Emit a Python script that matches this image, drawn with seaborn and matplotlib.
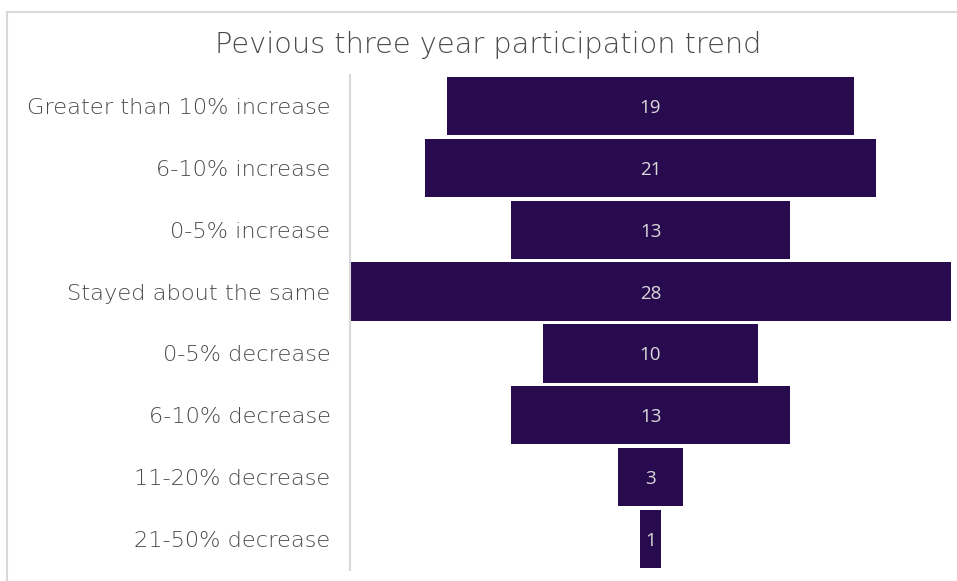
import matplotlib
matplotlib.use("Agg")
import matplotlib.pyplot as plt
import seaborn as sns
import numpy as np
import pandas as pd
from matplotlib.patches import Rectangle

categories = ["Greater than 10% increase", "6-10% increase", "0-5% increase",
              "Stayed about the same", "0-5% decrease", "6-10% decrease",
              "11-20% decrease", "21-50% decrease"]
values = [19, 21, 13, 28, 10, 13, 3, 1]
title = "Pevious three year participation trend"

sns.set_theme(style="white")
plt.rcParams['font.family'] = ['DejaVu Sans']

df = pd.DataFrame({"cat": categories, "val": values})

fig = plt.figure(figsize=(9.57, 5.81), dpi=100)
ax = fig.add_axes([350/957, 1-570/581, (951-350)/957, (570-75)/581])

sns.barplot(data=df, x="val", y="cat", orient="h", color="#280b4e",
            saturation=1, width=0.94, linewidth=0, ax=ax)
for p in ax.patches:
    w = p.get_width()
    p.set_x(-w/2)
    ax.text(0, p.get_y() + p.get_height()/2, f"{int(w)}", ha="center", va="center_baseline",
            color="#d9d9d9", fontsize=13.5, family=['Open Sans', 'DejaVu Sans'])

mx = max(values)
ax.set_xlim(-mx/2, mx/2)
ax.set_ylim(len(categories)-0.5, -0.5)
ax.set_xlabel("")
ax.set_ylabel("")
ax.set_xticks([])
for s in ["top", "right", "bottom"]:
    ax.spines[s].set_visible(False)
ax.spines["left"].set_color("#d9d9d9")
ax.spines["left"].set_linewidth(1.5)
ax.tick_params(axis="y", length=0, pad=14, labelsize=16.2, labelcolor="#4a4a4a")
for t in ax.get_yticklabels():
    t.set_fontweight("light")

fig.text(488/957, 1-45/581, title, ha="center", va="center", fontsize=20.8,
         color="#4a4a4a", fontweight="light")

fig.add_artist(Rectangle((7.5/957, -0.05), 1.2, 1-12/581+0.05, transform=fig.transFigure,
                         fill=False, edgecolor="#d9d9d9", linewidth=1.5))

fig.savefig("out.png", dpi=100)
